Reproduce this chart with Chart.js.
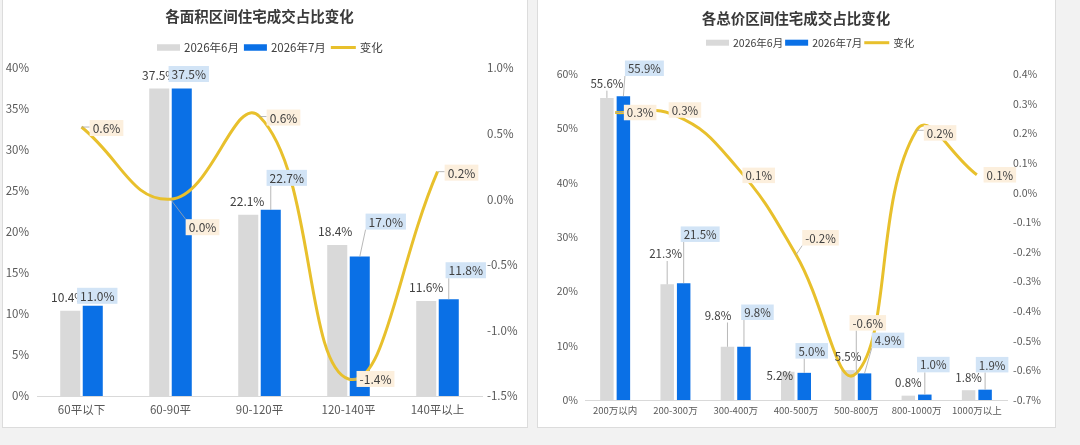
<!DOCTYPE html>
<html>
<head>
<meta charset="utf-8">
<script src="https://cdn.jsdelivr.net/npm/chart.js@4.4.1/dist/chart.umd.min.js"></script>
<style>
  body {margin:0; width:1080px; height:445px; overflow:hidden; position:relative; background:#f2f2f2;}
  .painel {position:absolute; top:-1px; height:429px; background:#fff; border:1px solid #dcdcdc; box-sizing:border-box;}
  #p1 {left:2px; width:526px;}
  #p2 {left:537px; width:519px;}
  canvas {position:absolute; top:0;}
  #graf1 {left:2px;}
  #graf2 {left:537px;}
</style>
</head>
<body>
<div class="painel" id="p1"></div>
<div class="painel" id="p2"></div>
<canvas id="graf1" width="525" height="427"></canvas>
<canvas id="graf2" width="518" height="427"></canvas>
<script>
//nomes das séries (legenda)
let nomesSeries = ['2026年6月', '2026年7月', '变化']

//gráfico da esquerda - faixas de área
let areaCategorias = ['60平以下', '60-90平', '90-120平', '120-140平', '140平以上']
let areaJunho = [10.4, 37.5, 22.1, 18.4, 11.6]
let areaJulho = [11.0, 37.5, 22.7, 17.0, 11.8]
let areaVariacao = [0.55, 0.0, 0.63, -1.37, 0.21]
let areaEixoEsq = [0, 5, 10, 15, 20, 25, 30, 35, 40]
let areaEixoDir = [-1.5, -1.0, -0.5, 0.0, 0.5, 1.0]

//gráfico da direita - faixas de preço total
let precoCategorias = ['200万以内', '200-300万', '300-400万', '400-500万', '500-800万', '800-1000万', '1000万以上']
let precoJunho = [55.6, 21.3, 9.8, 5.2, 5.5, 0.8, 1.8]
let precoJulho = [55.9, 21.5, 9.8, 5.0, 4.9, 1.0, 1.9]
let precoVariacao = [0.27, 0.26, 0.09, -0.21, -0.61, 0.21, 0.06]
let precoEixoEsq = [0, 10, 20, 30, 40, 50, 60]
let precoEixoDir = [-0.7, -0.6, -0.5, -0.4, -0.3, -0.2, -0.1, 0.0, 0.1, 0.2, 0.3, 0.4]

//cores
let corJunho = '#d9d9d9'
let corJulho = '#0a70e6'
let corLinha = '#e8c02c'
let fonte = '"Noto Sans CJK SC", "Noto Sans", sans-serif'

//posição dos rótulos em relação à barra / ponto (dx, dy em px), na ordem das séries
let deslocArea = [
  [[-2, -14], [0, -14], [-1, -14], [-2, -14], [0, -14]],
  [[4.5, -10], [7, -14.5], [16, -32], [26, -35], [17, -29]],
  [[25, 1], [32, 28], [24, 1], [27, 0], [24, 1]]
]
let deslocPreco = [
  [[0, -15], [-1.5, -31], [-9.5, -32], [-8, 3], [0, -14], [0, -14], [0, -13]],
  [[21, -28], [16.5, -49], [13.5, -34.5], [7.5, -22], [23.5, -33], [8.5, -30], [7, -25]],
  [[25, 0], [9.5, -5.5], [23, 9.5], [24.5, -17], [11.5, -50.5], [23.5, 2.6], [23, 0]]
]

//plugin que escreve título e legenda em posição fixa
const cabecalho = {
  id: 'cabecalho',
  afterDraw(chart, args, op) {
    let ctx = chart.ctx
    let area = chart.chartArea
    ctx.save()
    ctx.textBaseline = 'middle'
    ctx.textAlign = 'center'
    ctx.fillStyle = '#3a3a3a'
    ctx.font = 'bold ' + op.fonteTitulo + 'px ' + fonte
    ctx.fillText(op.titulo, (area.left + area.right) / 2, op.yTitulo)
    //legenda: caixa / linha + texto
    ctx.textAlign = 'left'
    ctx.font = op.fonteLegenda + 'px ' + fonte
    let x = op.xLegenda
    let y = op.yLegenda
    chart.data.datasets.forEach(function(ds) {
      if (ds.type == 'line') {
        ctx.strokeStyle = ds.borderColor
        ctx.lineWidth = 3
        ctx.beginPath()
        ctx.moveTo(x, y)
        ctx.lineTo(x + 25, y)
        ctx.stroke()
        x += 25
      } else {
        ctx.fillStyle = ds.backgroundColor
        ctx.fillRect(x, y - op.alturaCaixa / 2, 23, op.alturaCaixa)
        x += 23
      }
      x += 4
      ctx.fillStyle = '#404040'
      ctx.fillText(ds.label, x, y + 0.5)
      x += ctx.measureText(ds.label).width + op.espaco
    })
    ctx.restore()
  }
}

//plugin dos rótulos de dados (com fundo colorido e linha de chamada)
const rotulos = {
  id: 'rotulos',
  afterDatasetsDraw(chart, args, op) {
    let ctx = chart.ctx
    ctx.save()
    ctx.font = op.tamanho + 'px ' + fonte
    ctx.textAlign = 'center'
    ctx.textBaseline = 'middle'
    chart.data.datasets.forEach(function(ds, i) {
      let meta = chart.getDatasetMeta(i)
      meta.data.forEach(function(el, j) {
        let texto = ds.data[j].toFixed(1) + '%'
        let d = op.desloc[i][j]
        let cx = el.x + d[0]
        let cy = el.y + d[1]
        let w = ctx.measureText(texto).width + 6
        let h = op.tamanho + 4
        let x0 = cx - w / 2
        let y0 = cy - h / 2
        //se o rótulo ficou longe, liga com uma linha fina
        let nx = Math.min(Math.max(el.x, x0), x0 + w)
        let ny = Math.min(Math.max(el.y, y0), y0 + h)
        if (Math.hypot(el.x - nx, el.y - ny) > 7) {
          ctx.strokeStyle = '#a6a6a6'
          ctx.lineWidth = 0.8
          ctx.beginPath()
          ctx.moveTo(el.x, el.y)
          ctx.lineTo(nx, ny)
          ctx.stroke()
        }
        if (op.fundos[i]) {
          ctx.fillStyle = op.fundos[i]
          ctx.fillRect(x0, y0, w, h)
        }
        ctx.fillStyle = '#404040'
        ctx.fillText(texto, cx, cy + 0.5)
      })
    })
    ctx.restore()
  }
}

//monta um gráfico de barras + linha com dois eixos
function montar(id, categorias, junho, julho, variacao, eixoEsq, eixoDir, cfg) {
  return new Chart(document.getElementById(id), {
    type: 'bar',
    data: {
      labels: categorias,
      datasets: [
        {label: nomesSeries[0], data: junho, backgroundColor: corJunho, yAxisID: 'y', order: 1,
          barPercentage: cfg.barra, categoryPercentage: cfg.categoria},
        {label: nomesSeries[1], data: julho, backgroundColor: corJulho, yAxisID: 'y', order: 1,
          barPercentage: cfg.barra, categoryPercentage: cfg.categoria},
        {type: 'line', label: nomesSeries[2], data: variacao, borderColor: corLinha, backgroundColor: corLinha,
          borderWidth: 3, pointRadius: 0, tension: 0.45, yAxisID: 'y1', order: 0, clip: false}
      ]
    },
    options: {
      responsive: false,
      animation: false,
      layout: {padding: {top: cfg.topo, left: 0, right: 0, bottom: 0}},
      plugins: {
        legend: {display: false},
        title: {display: false},
        tooltip: {enabled: false},
        cabecalho: cfg.cabecalho,
        rotulos: {tamanho: cfg.fonteRotulo, desloc: cfg.desloc, fundos: [null, '#d2e4f6', '#fcefdd']}
      },
      scales: {
        x: {
          grid: {display: false, drawTicks: false},
          border: {display: true, color: '#d9d9d9'},
          ticks: {color: '#595959', font: {size: cfg.fonteX, family: fonte}, padding: cfg.padX, maxRotation: 0, autoSkip: false},
          afterFit: function(s) { s.height = cfg.alturaX }
        },
        y: {
          position: 'left',
          min: eixoEsq[0],
          max: eixoEsq[eixoEsq.length - 1],
          grid: {display: false, drawTicks: false},
          border: {display: false},
          afterBuildTicks: function(s) { s.ticks = eixoEsq.map(v => ({value: v})) },
          ticks: {color: '#595959', font: {size: cfg.fonteY, family: fonte}, padding: cfg.padEsq, callback: v => v + '%'},
          afterFit: function(s) { s.width = cfg.larguraEsq }
        },
        y1: {
          position: 'right',
          min: eixoDir[0],
          max: eixoDir[eixoDir.length - 1],
          grid: {display: false, drawTicks: false},
          border: {display: false},
          afterBuildTicks: function(s) { s.ticks = eixoDir.map(v => ({value: v})) },
          ticks: {color: '#595959', font: {size: cfg.fonteY, family: fonte}, padding: cfg.padDir, callback: v => v.toFixed(1) + '%'},
          afterFit: function(s) { s.width = cfg.larguraDir }
        }
      }
    },
    plugins: [cabecalho, rotulos]
  })
}

let grafico1 = montar('graf1', areaCategorias, areaJunho, areaJulho, areaVariacao, areaEixoEsq, areaEixoDir, {
  barra: 0.89, categoria: 0.506, topo: 68, alturaX: 31, padX: 7, fonteX: 11.5, fonteY: 11.5,
  larguraEsq: 35, larguraDir: 45, padEsq: 8, padDir: 5, fonteRotulo: 12, desloc: deslocArea,
  cabecalho: {titulo: '各面积区间住宅成交占比变化', fonteTitulo: 14.5, yTitulo: 16, fonteLegenda: 11.5,
    xLegenda: 155, yLegenda: 47.5, alturaCaixa: 6.5, espaco: 5}
})

let grafico2 = montar('graf2', precoCategorias, precoJunho, precoJulho, precoVariacao, precoEixoEsq, precoEixoDir, {
  barra: 0.818, categoria: 0.547, topo: 74, alturaX: 27, padX: 5, fonteX: 9.5, fonteY: 10.5,
  larguraEsq: 48, larguraDir: 48, padEsq: 7, padDir: 6, fonteRotulo: 11.5, desloc: deslocPreco,
  cabecalho: {titulo: '各总价区间住宅成交占比变化', fonteTitulo: 14.5, yTitulo: 18, fonteLegenda: 10.5,
    xLegenda: 169, yLegenda: 42.7, alturaCaixa: 6, espaco: 2}
})
</script>
</body>
</html>
